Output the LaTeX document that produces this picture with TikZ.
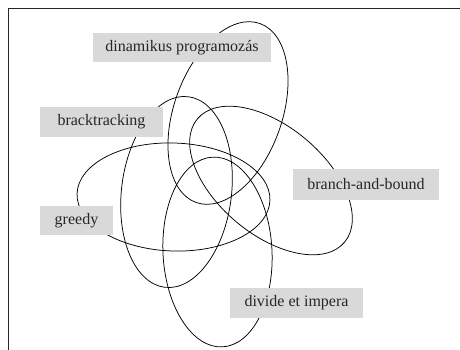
\documentclass[tikz,border=0pt]{standalone}
\usepackage{fontspec}
\setmainfont{Liberation Serif}
\begin{document}
\begin{tikzpicture}[x=1pt,y=1pt,
  loop/.style={draw=black, line width=0.75pt},
  label/.style={fill=labelgray, inner sep=0pt, font=\fontsize{16}{19}\selectfont, text=black!85},
  frame/.style={draw=black!85, line width=0.9pt}]
\definecolor{labelgray}{RGB}{217,217,217}
\useasboundingbox (0,0) rectangle (460,349);
\begin{scope}
\clip (0,0) rectangle (460,349);
% open frame around the figure
\draw[frame] (8.5,-20) -- (8.5,341) -- (480,341);
% the five overlapping regions
\draw[loop, rotate around={-19.6:(228,236)}] (228,236) ellipse [x radius=54, y radius=95];
\draw[loop, rotate around={-7:(176.5,157)}] (176.5,157) ellipse [x radius=55, y radius=96];
\draw[loop, rotate around={-2:(173.5,152)}] (173.5,152) ellipse [x radius=96.5, y radius=54];
\draw[loop, rotate around={-40:(271,168.5)}] (271,168.5) ellipse [x radius=96, y radius=54];
\draw[loop, rotate around={3:(217.5,97)}] (217.5,97) ellipse [x radius=54.5, y radius=95];
\end{scope}
% labels
\node[label, minimum width=178pt, minimum height=29pt] (dp) at (182,301.5) {dinamikus programozás};
\node[label, minimum width=123pt, minimum height=30pt] (bt) at (101.5,227) {bracktracking};
\node[label, minimum width=146pt, minimum height=31pt] (bb) at (366,164.5) {branch-and-bound};
\node[label, minimum width=73pt, minimum height=29pt] (gr) at (76.5,128.5) {greedy};
\node[label, minimum width=133pt, minimum height=30pt] (di) at (296.5,46) {divide et impera};
\end{tikzpicture}
\end{document}
